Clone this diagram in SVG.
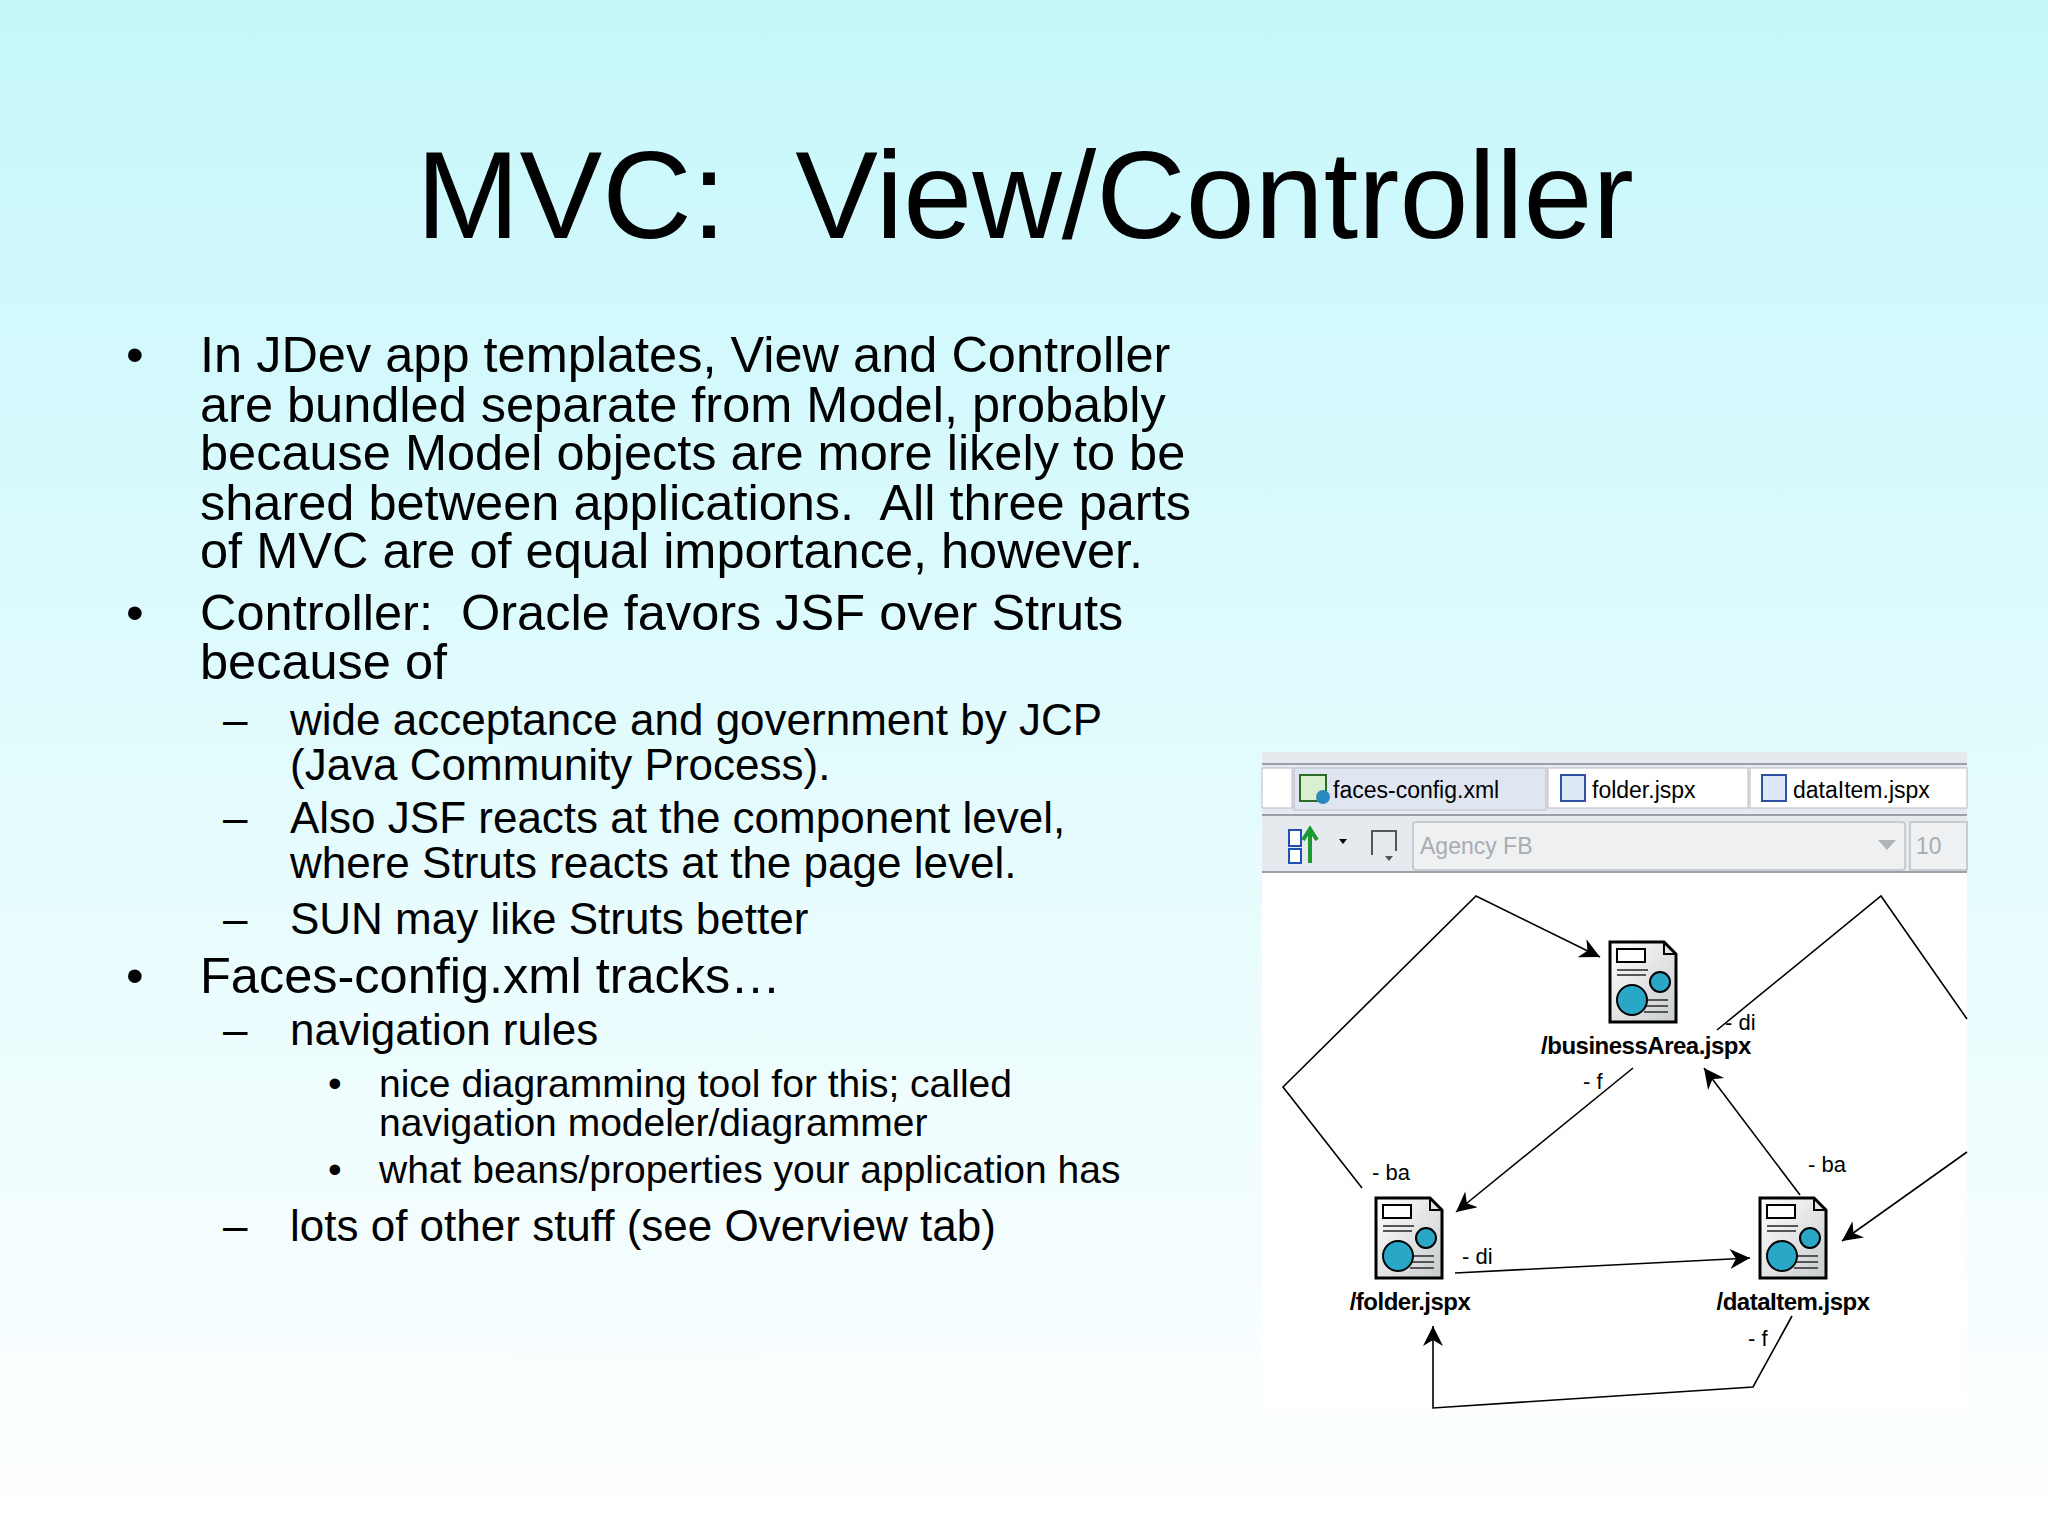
<svg xmlns="http://www.w3.org/2000/svg" width="2048" height="1536" viewBox="0 0 2048 1536">
<defs>
<linearGradient id="bg" x1="0" y1="0" x2="0" y2="1"><stop offset="0" stop-color="#c6f7fb"/><stop offset="1" stop-color="#ffffff"/></linearGradient>
<linearGradient id="pg" x1="0" y1="0" x2="1" y2="1"><stop offset="0" stop-color="#ffffff"/><stop offset="1" stop-color="#c8cccc"/></linearGradient>
<marker id="ahb" viewBox="0 0 10 10" refX="10" refY="5" markerWidth="24" markerHeight="20" markerUnits="userSpaceOnUse" orient="auto"><path d="M0,0 L10,5 L0,10 L3,5 z" fill="#000"/></marker>
<symbol id="doc" viewBox="0 0 70 84"><path d="M2,2 H56 L68,14 V82 H2 z" fill="url(#pg)" stroke="#000" stroke-width="3"/><path d="M56,2 V14 H68" fill="none" stroke="#000" stroke-width="2"/><rect x="9" y="9" width="28" height="13" fill="#fff" stroke="#000" stroke-width="2"/><g stroke="#555" stroke-width="2"><line x1="9" y1="30" x2="40" y2="30"/><line x1="9" y1="35" x2="38" y2="35"/><line x1="36" y1="60" x2="60" y2="60"/><line x1="36" y1="66" x2="60" y2="66"/><line x1="36" y1="72" x2="60" y2="72"/></g><circle cx="52" cy="42" r="10" fill="#2aa6c6" stroke="#000" stroke-width="2"/><circle cx="24" cy="60" r="15" fill="#2aa6c6" stroke="#000" stroke-width="2"/></symbol>
<style>
text{font-family:"Liberation Sans",Arial,sans-serif;fill:#000;white-space:pre}
.b1{font-size:50.5px}.b2{font-size:44px}.b3{font-size:39px}
.lbl{font-size:24px;font-weight:bold;letter-spacing:-0.5px}
.el{font-size:22px}
.tab{font-size:23px}
.c{fill:none;stroke:#000;stroke-width:1.6}
</style>
</defs>
<rect width="2048" height="1536" fill="url(#bg)"/>
<text x="1025" y="238" font-size="124" text-anchor="middle">MVC:  View/Controller</text>
<g id="bullets">
<text x="126" y="372" class="b1">•</text>
<text x="200" y="372" class="b1">In JDev app templates, View and Controller</text>
<text x="200" y="422" class="b1">are bundled separate from Model, probably</text>
<text x="200" y="470" class="b1">because Model objects are more likely to be</text>
<text x="200" y="520" class="b1">shared between applications.  All three parts</text>
<text x="200" y="568" class="b1">of MVC are of equal importance, however.</text>
<text x="126" y="630" class="b1">•</text>
<text x="200" y="630" class="b1">Controller:  Oracle favors JSF over Struts</text>
<text x="200" y="679" class="b1">because of</text>
<text x="223" y="735" class="b2">–</text>
<text x="290" y="735" class="b2">wide acceptance and government by JCP</text>
<text x="290" y="780" class="b2">(Java Community Process).</text>
<text x="223" y="833" class="b2">–</text>
<text x="290" y="833" class="b2">Also JSF reacts at the component level,</text>
<text x="290" y="878" class="b2">where Struts reacts at the page level.</text>
<text x="223" y="934" class="b2">–</text>
<text x="290" y="934" class="b2">SUN may like Struts better</text>
<text x="126" y="993" class="b1">•</text>
<text x="200" y="993" class="b1">Faces-config.xml tracks…</text>
<text x="223" y="1045" class="b2">–</text>
<text x="290" y="1045" class="b2">navigation rules</text>
<text x="328" y="1097" class="b3">•</text>
<text x="379" y="1097" class="b3">nice diagramming tool for this; called</text>
<text x="379" y="1136" class="b3">navigation modeler/diagrammer</text>
<text x="328" y="1183" class="b3">•</text>
<text x="379" y="1183" class="b3">what beans/properties your application has</text>
<text x="223" y="1241" class="b2">–</text>
<text x="290" y="1241" class="b2">lots of other stuff (see Overview tab)</text>
</g>
<g id="panel">
<rect x="1262" y="752" width="705" height="660" fill="#fff"/>
<rect x="1262" y="752" width="705" height="120" fill="#e6e9ee"/>
<line x1="1262" y1="764" x2="1967" y2="764" stroke="#9aa0a8" stroke-width="2"/>
<rect x="1262" y="768" width="30" height="40" fill="#fff" stroke="#b8bcc4"/>
<rect x="1294" y="768" width="252" height="42" fill="#dfe6f2" stroke="#b8bcc4"/>
<rect x="1548" y="768" width="200" height="40" fill="#fff" stroke="#b8bcc4"/>
<rect x="1750" y="768" width="217" height="40" fill="#fff" stroke="#b8bcc4"/>
<rect x="1300" y="775" width="26" height="26" fill="#d8f0d0" stroke="#2a6a2a" stroke-width="2"/>
<circle cx="1323" cy="797" r="7" fill="#2a8ac0"/>
<rect x="1561" y="775" width="24" height="26" fill="#dde8f8" stroke="#3050a0" stroke-width="2"/>
<rect x="1762" y="775" width="24" height="26" fill="#dde8f8" stroke="#3050a0" stroke-width="2"/>
<text x="1333" y="798" class="tab">faces-config.xml</text>
<text x="1592" y="798" class="tab">folder.jspx</text>
<text x="1793" y="798" class="tab">dataItem.jspx</text>
<line x1="1262" y1="815" x2="1967" y2="815" stroke="#9aa0a8" stroke-width="2"/>
<line x1="1262" y1="872" x2="1967" y2="872" stroke="#9aa0a8" stroke-width="2"/>
<rect x="1289" y="830" width="12" height="16" fill="#fff" stroke="#2050b0" stroke-width="2"/>
<rect x="1289" y="849" width="12" height="14" fill="#fff" stroke="#2050b0" stroke-width="2"/>
<path d="M1310,863 V833 M1303,840 L1310,829 L1317,840" stroke="#1a9a30" stroke-width="4" fill="none"/>
<path d="M1339,839 l8,0 l-4,5 z" fill="#000"/>
<path d="M1372,855 V831 H1396 V851" fill="none" stroke="#555" stroke-width="2"/>
<path d="M1385,856 l8,0 l-4,5 z" fill="#555"/>
<rect x="1413" y="822" width="492" height="48" rx="3" fill="#eef0f2" stroke="#c8ccd0" stroke-width="2"/>
<text x="1420" y="854" font-size="23" style="fill:#a8acb2">Agency FB</text>
<path d="M1878,840 l18,0 l-9,10 z" fill="#b0b4b8"/>
<rect x="1910" y="822" width="57" height="48" fill="#eef0f2" stroke="#c8ccd0" stroke-width="2"/>
<text x="1916" y="854" font-size="23" style="fill:#a8acb2">10</text>
</g>
<g id="connectors">
<polyline class="c" points="1362,1188 1283,1087 1476,896 1600,957" marker-end="url(#ahb)"/>
<polyline class="c" points="1633,1068 1456,1212" marker-end="url(#ahb)"/>
<polyline class="c" points="1800,1195 1704,1068" marker-end="url(#ahb)"/>
<polyline class="c" points="1455,1273 1750,1258" marker-end="url(#ahb)"/>
<polyline class="c" points="1792,1316 1753,1387 1433,1408 1433,1326" marker-end="url(#ahb)"/>
<polyline class="c" points="1717,1030 1881,896 1967,1019"/>
<polyline class="c" points="1967,1152 1842,1241" marker-end="url(#ahb)"/>
<text x="1372" y="1180" class="el">- ba</text>
<text x="1583" y="1089" class="el">- f</text>
<text x="1808" y="1172" class="el">- ba</text>
<text x="1462" y="1264" class="el">- di</text>
<text x="1748" y="1346" class="el">- f</text>
<text x="1725" y="1030" class="el">- di</text>
</g>
<g id="businessArea"><use href="#doc" x="1608" y="940" width="70" height="84"/><text x="1646" y="1054" class="lbl" text-anchor="middle">/businessArea.jspx</text></g>
<g id="folder"><use href="#doc" x="1374" y="1196" width="70" height="84"/><text x="1410" y="1310" class="lbl" text-anchor="middle">/folder.jspx</text></g>
<g id="dataItem"><use href="#doc" x="1758" y="1196" width="70" height="84"/><text x="1793" y="1310" class="lbl" text-anchor="middle">/dataItem.jspx</text></g>
</svg>
